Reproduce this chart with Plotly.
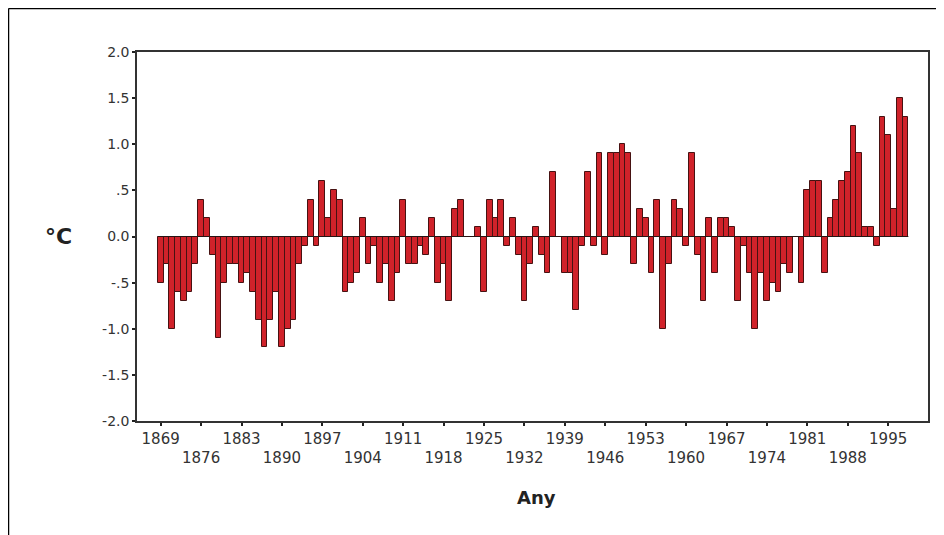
import plotly.graph_objects as go

# ---- data ----
years = list(range(1869, 1999))
anomaly = [
    -0.5, -0.3, -1.0, -0.6, -0.7, -0.6, -0.3, 0.4, 0.2, -0.2,      # 1869-1878
    -1.1, -0.5, -0.3, -0.3, -0.5, -0.4, -0.6, -0.9, -1.2, -0.9,    # 1879-1888
    -0.6, -1.2, -1.0, -0.9, -0.3, -0.1, 0.4, -0.1, 0.6, 0.2,       # 1889-1898
    0.5, 0.4, -0.6, -0.5, -0.4, 0.2, -0.3, -0.1, -0.5, -0.3,       # 1899-1908
    -0.7, -0.4, 0.4, -0.3, -0.3, -0.1, -0.2, 0.2, -0.5, -0.3,      # 1909-1918
    -0.7, 0.3, 0.4, 0.0, 0.0, 0.1, -0.6, 0.4, 0.2, 0.4,            # 1919-1928
    -0.1, 0.2, -0.2, -0.7, -0.3, 0.1, -0.2, -0.4, 0.7, 0.0,        # 1929-1938
    -0.4, -0.4, -0.8, -0.1, 0.7, -0.1, 0.9, -0.2, 0.9, 0.9,        # 1939-1948
    1.0, 0.9, -0.3, 0.3, 0.2, -0.4, 0.4, -1.0, -0.3, 0.4,          # 1949-1958
    0.3, -0.1, 0.9, -0.2, -0.7, 0.2, -0.4, 0.2, 0.2, 0.1,          # 1959-1968
    -0.7, -0.1, -0.4, -1.0, -0.4, -0.7, -0.5, -0.6, -0.3, -0.4,    # 1969-1978
    0.0, -0.5, 0.5, 0.6, 0.6, -0.4, 0.2, 0.4, 0.6, 0.7,            # 1979-1988
    1.2, 0.9, 0.1, 0.1, -0.1, 1.3, 1.1, 0.3, 1.5, 1.3,             # 1989-1998
]
tick_years = list(range(1869, 1996, 7))
tick_labels = [str(y) if i % 2 == 0 else "<br>" + str(y) for i, y in enumerate(tick_years)]
y_ticks = [2.0, 1.5, 1.0, 0.5, 0.0, -0.5, -1.0, -1.5, -2.0]
y_labels = ["2.0", "1.5", "1.0", ".5", "0.0", "-.5", "-1.0", "-1.5", "-2.0"]

# page offset of the figure (body margin) and target page geometry
OFF = 8
W, H = 944 - OFF, 535 - OFF
L, R, T, B = 137 - OFF, 928 - OFF, 52 - OFF, 421 - OFF


def px_x(p):  # page pixel -> paper x
    return (p - OFF - L) / (R - L)


def px_y(p):  # page pixel -> paper y
    return (B - (p - OFF)) / (B - T)


fig = go.Figure()
fig.add_trace(go.Bar(
    x=years, y=anomaly,
    marker=dict(color="rgb(208,34,42)", line=dict(color="rgb(70,18,18)", width=1)),
    width=1.0,
))

fig.add_shape(type="line", xref="x", yref="y",
              x0=min(years) - 0.5, x1=max(years) + 0.5, y0=0, y1=0,
              line=dict(color="rgb(40,20,20)", width=1))

# outer frame lines (left and top)
fig.add_shape(type="line", xref="paper", yref="paper",
              x0=px_x(8.5), x1=px_x(8.5), y0=px_y(8.5), y1=px_y(535),
              line=dict(color="black", width=1.5))
fig.add_shape(type="line", xref="paper", yref="paper",
              x0=px_x(8.5), x1=px_x(944), y0=px_y(8.5), y1=px_y(8.5),
              line=dict(color="black", width=1.5))

fig.add_annotation(text="<b>°C</b>", xref="paper", yref="paper", x=px_x(58), y=px_y(237),
                   showarrow=False, xanchor="center", yanchor="middle",
                   font=dict(family="DejaVu Sans", size=22, color="#222"))
fig.add_annotation(text="<b>Any</b>", xref="paper", yref="paper", x=px_x(536), y=px_y(498),
                   showarrow=False, xanchor="center", yanchor="middle",
                   font=dict(family="DejaVu Sans", size=18, color="#222"))

fig.update_layout(
    width=W, height=H,
    margin=dict(l=L, r=W - R, t=T, b=H - B),
    paper_bgcolor="white", plot_bgcolor="white",
    showlegend=False, bargap=0,
    xaxis=dict(
        range=[1864.9, 2001.9], tickmode="array", tickvals=tick_years, ticktext=tick_labels,
        showgrid=False, zeroline=False, showline=True, linecolor="#333", linewidth=1.5,
        mirror=True, ticks="outside", ticklen=3, tickwidth=2, tickcolor="#222",
        tickfont=dict(family="DejaVu Sans", size=15, color="#333"),
    ),
    yaxis=dict(
        range=[-2.0, 2.0], tickmode="array", tickvals=y_ticks, ticktext=y_labels,
        showgrid=False, zeroline=False, showline=True, linecolor="#333", linewidth=1.5,
        mirror=True, ticks="outside", ticklen=3, tickwidth=2, tickcolor="#222",
        tickfont=dict(family="DejaVu Sans", size=14, color="#333"),
    ),
)

fig.write_html("out.html")
